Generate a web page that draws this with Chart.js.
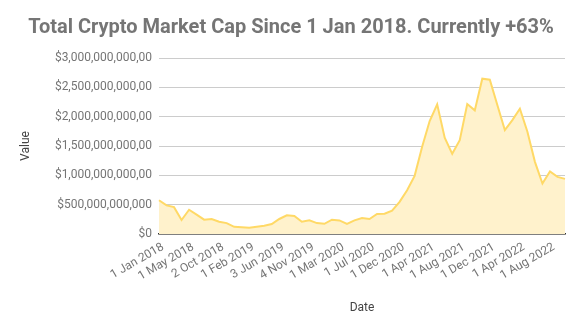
<!DOCTYPE html>
<html>
<head>
<meta charset="utf-8">
<script src="https://cdn.jsdelivr.net/npm/chart.js@4"></script>
<style>
html,body{margin:0;padding:0;background:#fff;}
#wrap{width:582px;height:328px;position:relative;}
</style>
</head>
<body>
<div id="wrap"><canvas id="c" width="582" height="328"></canvas></div>
<script>
const dates = [
  "1 Jan 2018","1 Feb 2018","1 Mar 2018","2 Apr 2018",
  "1 May 2018","1 Jun 2018","2 Jul 2018","3 Sep 2018",
  "2 Oct 2018","1 Nov 2018","3 Dec 2018","2 Jan 2019",
  "1 Feb 2019","1 Mar 2019","1 Apr 2019","1 May 2019",
  "3 Jun 2019","1 Jul 2019","1 Aug 2019","2 Sep 2019",
  "4 Nov 2019","2 Dec 2019","2 Jan 2020","3 Feb 2020",
  "1 Mar 2020","1 Apr 2020","1 May 2020","1 Jun 2020",
  "1 Jul 2020","3 Aug 2020","1 Sep 2020","2 Nov 2020",
  "1 Dec 2020","1 Jan 2021","1 Feb 2021","1 Mar 2021",
  "1 Apr 2021","3 May 2021","1 Jun 2021","1 Jul 2021",
  "1 Aug 2021","1 Sep 2021","1 Oct 2021","1 Nov 2021",
  "1 Dec 2021","3 Jan 2022","1 Feb 2022","1 Mar 2022",
  "1 Apr 2022","2 May 2022","1 Jun 2022","1 Jul 2022",
  "1 Aug 2022","1 Sep 2022","3 Oct 2022"
];
// Total market cap, billions of USD
const marketCapBillions = [
  575, 488, 458, 239, 413, 331, 244, 256, 209, 186, 122, 117, 105, 122, 139,
  169, 256, 319, 308, 209, 232, 186, 174, 244, 232, 174, 232, 273, 256, 342,
  347, 399, 547, 746, 991, 1486, 1925, 2210, 1640, 1367, 1600, 2215, 2107, 2648,
  2631, 2198, 1771, 1942, 2136, 1743, 1230, 860, 1065, 974, 940
];
const yTickLabels = [
  "$0","$500,000,000,000","$1,000,000,000,00","$1,500,000,000,00",
  "$2,000,000,000,00","$2,500,000,000,00","$3,000,000,000,00"
];
const titleText = "Total Crypto Market Cap Since 1 Jan 2018. Currently +63%";

const values = marketCapBillions.map(v => v * 1e9);

new Chart(document.getElementById('c'), {
  type: 'line',
  data: {
    labels: dates,
    datasets: [{
      label: 'Value',
      data: values,
      borderColor: '#FFD966',
      backgroundColor: '#FFF2CC',
      borderWidth: 2,
      fill: 'origin',
      tension: 0,
      pointRadius: 0,
      yAxisID: 'y'
    }]
  },
  options: {
    responsive: false,
    animation: false,
    devicePixelRatio: 1,
    layout: { padding: 0 },
    plugins: {
      legend: { display: false },
      tooltip: { enabled: false },
      title: {
        display: true,
        text: titleText,
        color: '#757575',
        font: { family: 'Roboto', size: 20, weight: 'bold' },
        padding: { top: 16, bottom: 18 }
      }
    },
    scales: {
      x: {
        grid: { display: false, drawTicks: false },
        border: { display: true, color: '#333333', width: 1.5 },
        afterFit: s => { s.height = 94; },
        ticks: {
          autoSkip: false,
          maxRotation: 30,
          minRotation: 30,
          padding: 6,
          labelOffset: 4,
          color: '#757575',
          font: { family: 'Roboto', size: 12 },
          callback: function(v, i) { return i % 4 === 0 ? dates[i] : ''; }
        },
        title: {
          display: true,
          text: 'Date',
          color: '#444444',
          font: { family: 'Roboto', size: 12 },
          padding: { top: 6, bottom: 13 }
        }
      },
      y: {
        min: 0,
        max: 3e12,
        grid: { color: '#cccccc', drawTicks: false },
        border: { display: false },
        afterFit: s => { s.width = 159; },
        ticks: {
          stepSize: 5e11,
          padding: 7,
          color: '#757575',
          font: { family: 'Roboto', size: 12 },
          callback: function(v) { return yTickLabels[Math.round(v / 5e11)]; }
        },
        title: {
          display: true,
          text: 'Value',
          color: '#444444',
          font: { family: 'Roboto', size: 12 },
          padding: { top: 19, bottom: 0 }
        }
      },
      spacer: {
        position: 'right',
        display: true,
        grid: { display: false, drawTicks: false },
        border: { display: false },
        ticks: { display: false },
        afterFit: s => { s.width = 17; }
      }
    }
  }
});
</script>
</body>
</html>
